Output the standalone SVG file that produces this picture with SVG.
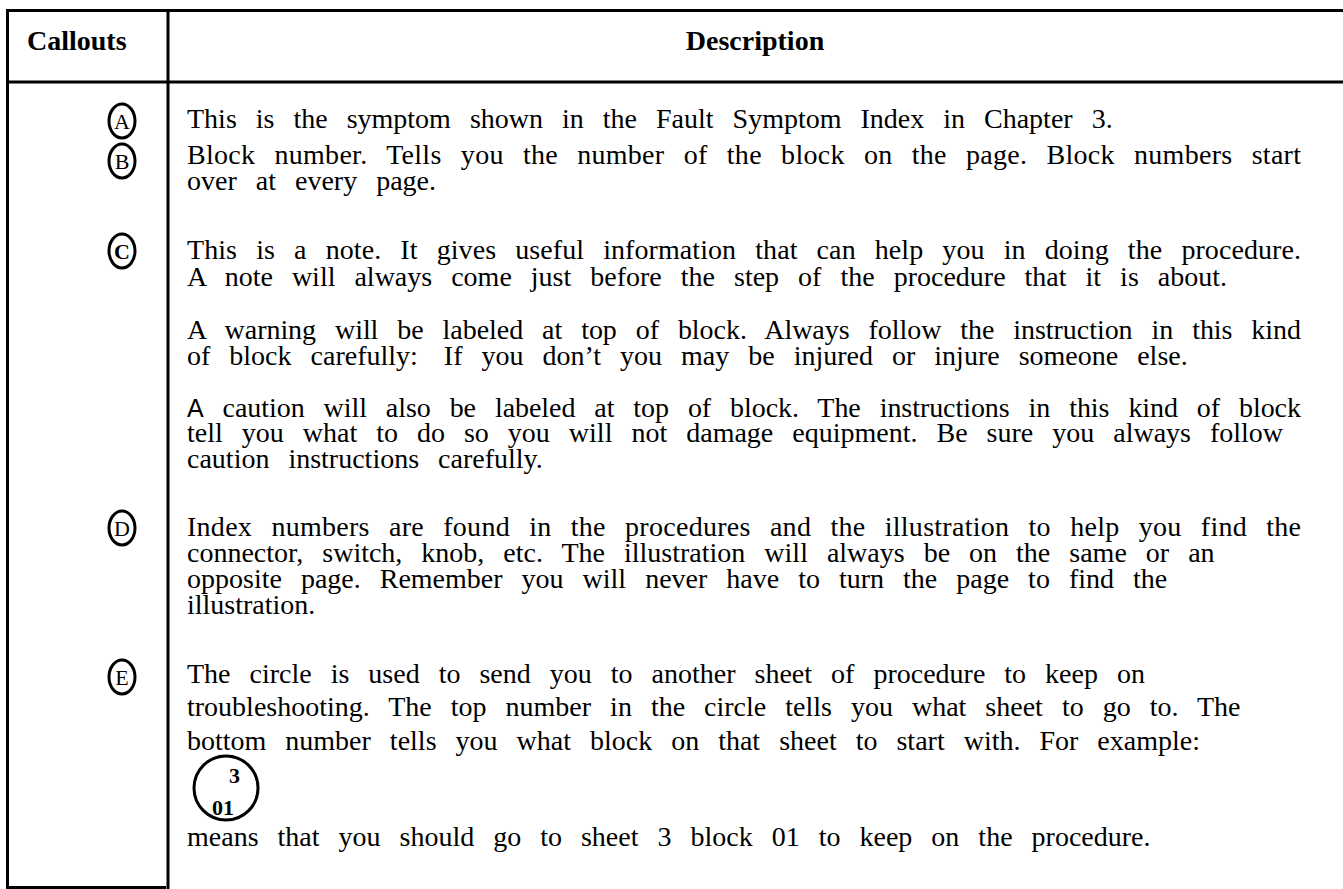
<svg xmlns="http://www.w3.org/2000/svg" width="1343" height="889" viewBox="0 0 1343 889">
<style>
  .rule{stroke:#000;stroke-width:3;fill:none}
  .hd{font-family:"Liberation Serif","Times New Roman",serif;font-weight:bold;font-size:28px;fill:#000}
  .tx{font-family:"Liberation Serif","Times New Roman",serif;font-size:28px;fill:#000;word-spacing:12px}
  .co{fill:none;stroke:#000;stroke-width:3}
  .cl{font-family:"Liberation Serif","Times New Roman",serif;font-size:22px;fill:#000;text-anchor:middle}
  .sans{font-family:"Liberation Sans",Arial,sans-serif}
  .ex{font-family:"Liberation Serif","Times New Roman",serif;font-weight:bold;font-size:22px;fill:#000}
</style>
<rect width="1343" height="889" fill="#fff"/>
<g id="table">
  <line class="rule" x1="6" y1="10.5" x2="1343" y2="10.5"/>
  <line class="rule" x1="6" y1="82" x2="1343" y2="82"/>
  <line class="rule" x1="7.5" y1="9" x2="7.5" y2="888"/>
  <line class="rule" x1="168" y1="9" x2="168" y2="889"/>
  <line class="rule" x1="6" y1="887.5" x2="166" y2="887.5"/>
</g>
<g id="header">
  <text class="hd" x="27" y="50">Callouts</text>
  <text class="hd" x="755" y="50" text-anchor="middle">Description</text>
</g>
<g id="callout-A">
  <ellipse class="co" cx="122" cy="121" rx="13" ry="17"/>
  <text class="cl" x="122" y="129">A</text>
  <text class="tx" x="187" y="128">This is the symptom shown in the Fault Symptom Index in Chapter 3.</text>
</g>
<g id="callout-B">
  <ellipse class="co" cx="122" cy="161" rx="13" ry="17"/>
  <text class="cl" x="122" y="169">B</text>
  <text class="tx" x="187" y="164" textLength="1114" lengthAdjust="spacing">Block number. Tells you the number of the block on the page. Block numbers start</text>
  <text class="tx" x="187" y="190">over at every page.</text>
</g>
<g id="callout-C">
  <ellipse class="co" cx="122" cy="251" rx="13" ry="17" stroke-width="4.5"/>
  <text class="cl" x="122" y="259" font-weight="bold">C</text>
  <text class="tx" x="187" y="259" textLength="1114" lengthAdjust="spacing">This is a note. It gives useful information that can help you in doing the procedure.</text>
  <text class="tx" x="187" y="286">A note will always come just before the step of the procedure that it is about.</text>
</g>
<g id="warning">
  <text class="tx" x="187" y="339" textLength="1114" lengthAdjust="spacing">A warning will be labeled at top of block. Always follow the instruction in this kind</text>
  <text class="tx" x="187" y="365">of block carefully:<tspan dx="26">If you don’t you may be injured or injure someone else.</tspan></text>
</g>
<g id="caution">
  <text class="tx" x="187" y="417" textLength="1114" lengthAdjust="spacing"><tspan class="sans" font-size="25">A</tspan> caution will also be labeled at top of block. The instructions in this kind of block</text>
  <text class="tx" x="187" y="442">tell you what to do so you will not damage equipment. Be sure you always follow</text>
  <text class="tx" x="187" y="468">caution instructions carefully.</text>
</g>
<g id="callout-D">
  <ellipse class="co" cx="122" cy="528" rx="13" ry="17"/>
  <text class="cl" x="122" y="536">D</text>
  <text class="tx" x="187" y="536" textLength="1114" lengthAdjust="spacing">Index numbers are found in the procedures and the illustration to help you find the</text>
  <text class="tx" x="187" y="562">connector, switch, knob, etc. The illustration will always be on the same or an</text>
  <text class="tx" x="187" y="588">opposite page. Remember you will never have to turn the page to find the</text>
  <text class="tx" x="187" y="614">illustration.</text>
</g>
<g id="callout-E">
  <ellipse class="co" cx="122" cy="677" rx="13" ry="17"/>
  <text class="cl" x="122" y="685">E</text>
  <text class="tx" x="187" y="683">The circle is used to send you to another sheet of procedure to keep on</text>
  <text class="tx" x="187" y="716">troubleshooting. The top number in the circle tells you what sheet to go to. The</text>
  <text class="tx" x="187" y="750">bottom number tells you what block on that sheet to start with. For example:</text>
  <circle class="co" cx="226" cy="788" r="32"/>
  <text class="ex" x="229" y="783">3</text>
  <text class="ex" x="212" y="815">01</text>
  <text class="tx" x="187" y="846">means that you should go to sheet 3 block 01 to keep on the procedure.</text>
</g>
</svg>
